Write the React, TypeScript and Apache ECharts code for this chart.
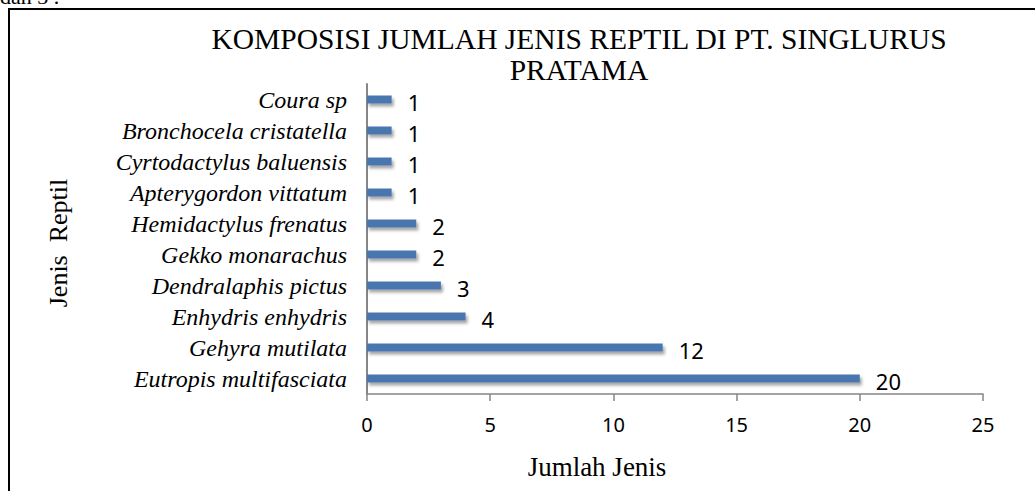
import React, { useEffect, useRef } from "react";
import * as echarts from "echarts";

const categories = [
  "Coura sp",
  "Bronchocela cristatella",
  "Cyrtodactylus baluensis",
  "Apterygordon vittatum",
  "Hemidactylus frenatus",
  "Gekko monarachus",
  "Dendralaphis pictus",
  "Enhydris enhydris",
  "Gehyra mutilata",
  "Eutropis multifasciata",
];
const values = [1, 1, 1, 1, 2, 2, 3, 4, 12, 20];
const titleLines = ["KOMPOSISI JUMLAH JENIS REPTIL DI PT. SINGLURUS", "PRATAMA"];
const xAxisName = "Jumlah Jenis";
const yAxisName = "Jenis  Reptil";
const cutText = "dan 3 .";

const SERIF = "'Liberation Serif', 'Times New Roman', serif";
const SANS = "'Noto Sans', 'Liberation Sans', sans-serif";

export default function App() {
  const ref = useRef<HTMLDivElement>(null);
  useEffect(() => {
    if (!ref.current) return;
    const chart = echarts.init(ref.current, undefined, { renderer: "svg" });
    chart.setOption({
      animation: false,
      backgroundColor: "#ffffff",
      grid: { left: 367, right: 52, top: 84, bottom: 97, containLabel: false },
      xAxis: {
        type: "value",
        min: 0,
        max: 25,
        interval: 5,
        axisLine: { show: true, lineStyle: { color: "#868686", width: 1.5 } },
        axisTick: { show: true, length: 7, lineStyle: { color: "#868686", width: 1.5 } },
        splitLine: { show: false },
        axisLabel: { fontFamily: SANS, fontSize: 20, color: "#000", margin: 20 },
      },
      yAxis: {
        type: "category",
        data: categories,
        inverse: true,
        axisLine: { show: true, lineStyle: { color: "#868686", width: 2 } },
        axisTick: { show: false },
        axisLabel: {
          interval: 0,
          fontFamily: SERIF,
          fontStyle: "italic",
          fontSize: 24,
          color: "#000",
          margin: 20,
        },
      },
      series: [
        {
          type: "bar",
          data: values,
          barWidth: 8,
          itemStyle: {
            color: "#4A76AE",
            shadowColor: "rgba(0,0,0,0.35)",
            shadowBlur: 3,
            shadowOffsetX: 2,
            shadowOffsetY: 3,
          },
          label: {
            show: true,
            position: "right",
            distance: 16,
            fontFamily: SANS,
            fontSize: 22,
            color: "#000",
            offset: [0, 2],
          },
        },
      ],
      graphic: [
        {
          type: "rect",
          shape: { x: 9, y: 9, width: 1040, height: 500 },
          style: { fill: "none", stroke: "#000", lineWidth: 2 },
          z: 100,
        },
        {
          type: "text",
          x: 0,
          y: 7,
          style: {
            text: cutText,
            font: `22px ${SERIF}`,
            fill: "#000",
            textAlign: "left",
            textVerticalAlign: "bottom",
          },
        },
        {
          type: "text",
          x: 579,
          y: 39,
          style: {
            text: titleLines[0],
            font: `29.5px ${SERIF}`,
            fill: "#000",
            textAlign: "center",
            textVerticalAlign: "middle",
          },
        },
        {
          type: "text",
          x: 579,
          y: 70,
          style: {
            text: titleLines[1],
            font: `29.5px ${SERIF}`,
            fill: "#000",
            textAlign: "center",
            textVerticalAlign: "middle",
          },
        },
        {
          type: "text",
          x: 597,
          y: 467,
          style: {
            text: xAxisName,
            font: `27px ${SERIF}`,
            fill: "#000",
            textAlign: "center",
            textVerticalAlign: "middle",
          },
        },
        {
          type: "text",
          x: 58,
          y: 243,
          rotation: Math.PI / 2,
          style: {
            text: yAxisName,
            font: `26px ${SERIF}`,
            fill: "#000",
            textAlign: "center",
            textVerticalAlign: "middle",
          },
        },
      ],
    });
    return () => chart.dispose();
  }, []);
  return (
    <div
      ref={ref}
      style={{ position: "absolute", left: 0, top: 0, width: 1035, height: 491 }}
    />
  );
}
